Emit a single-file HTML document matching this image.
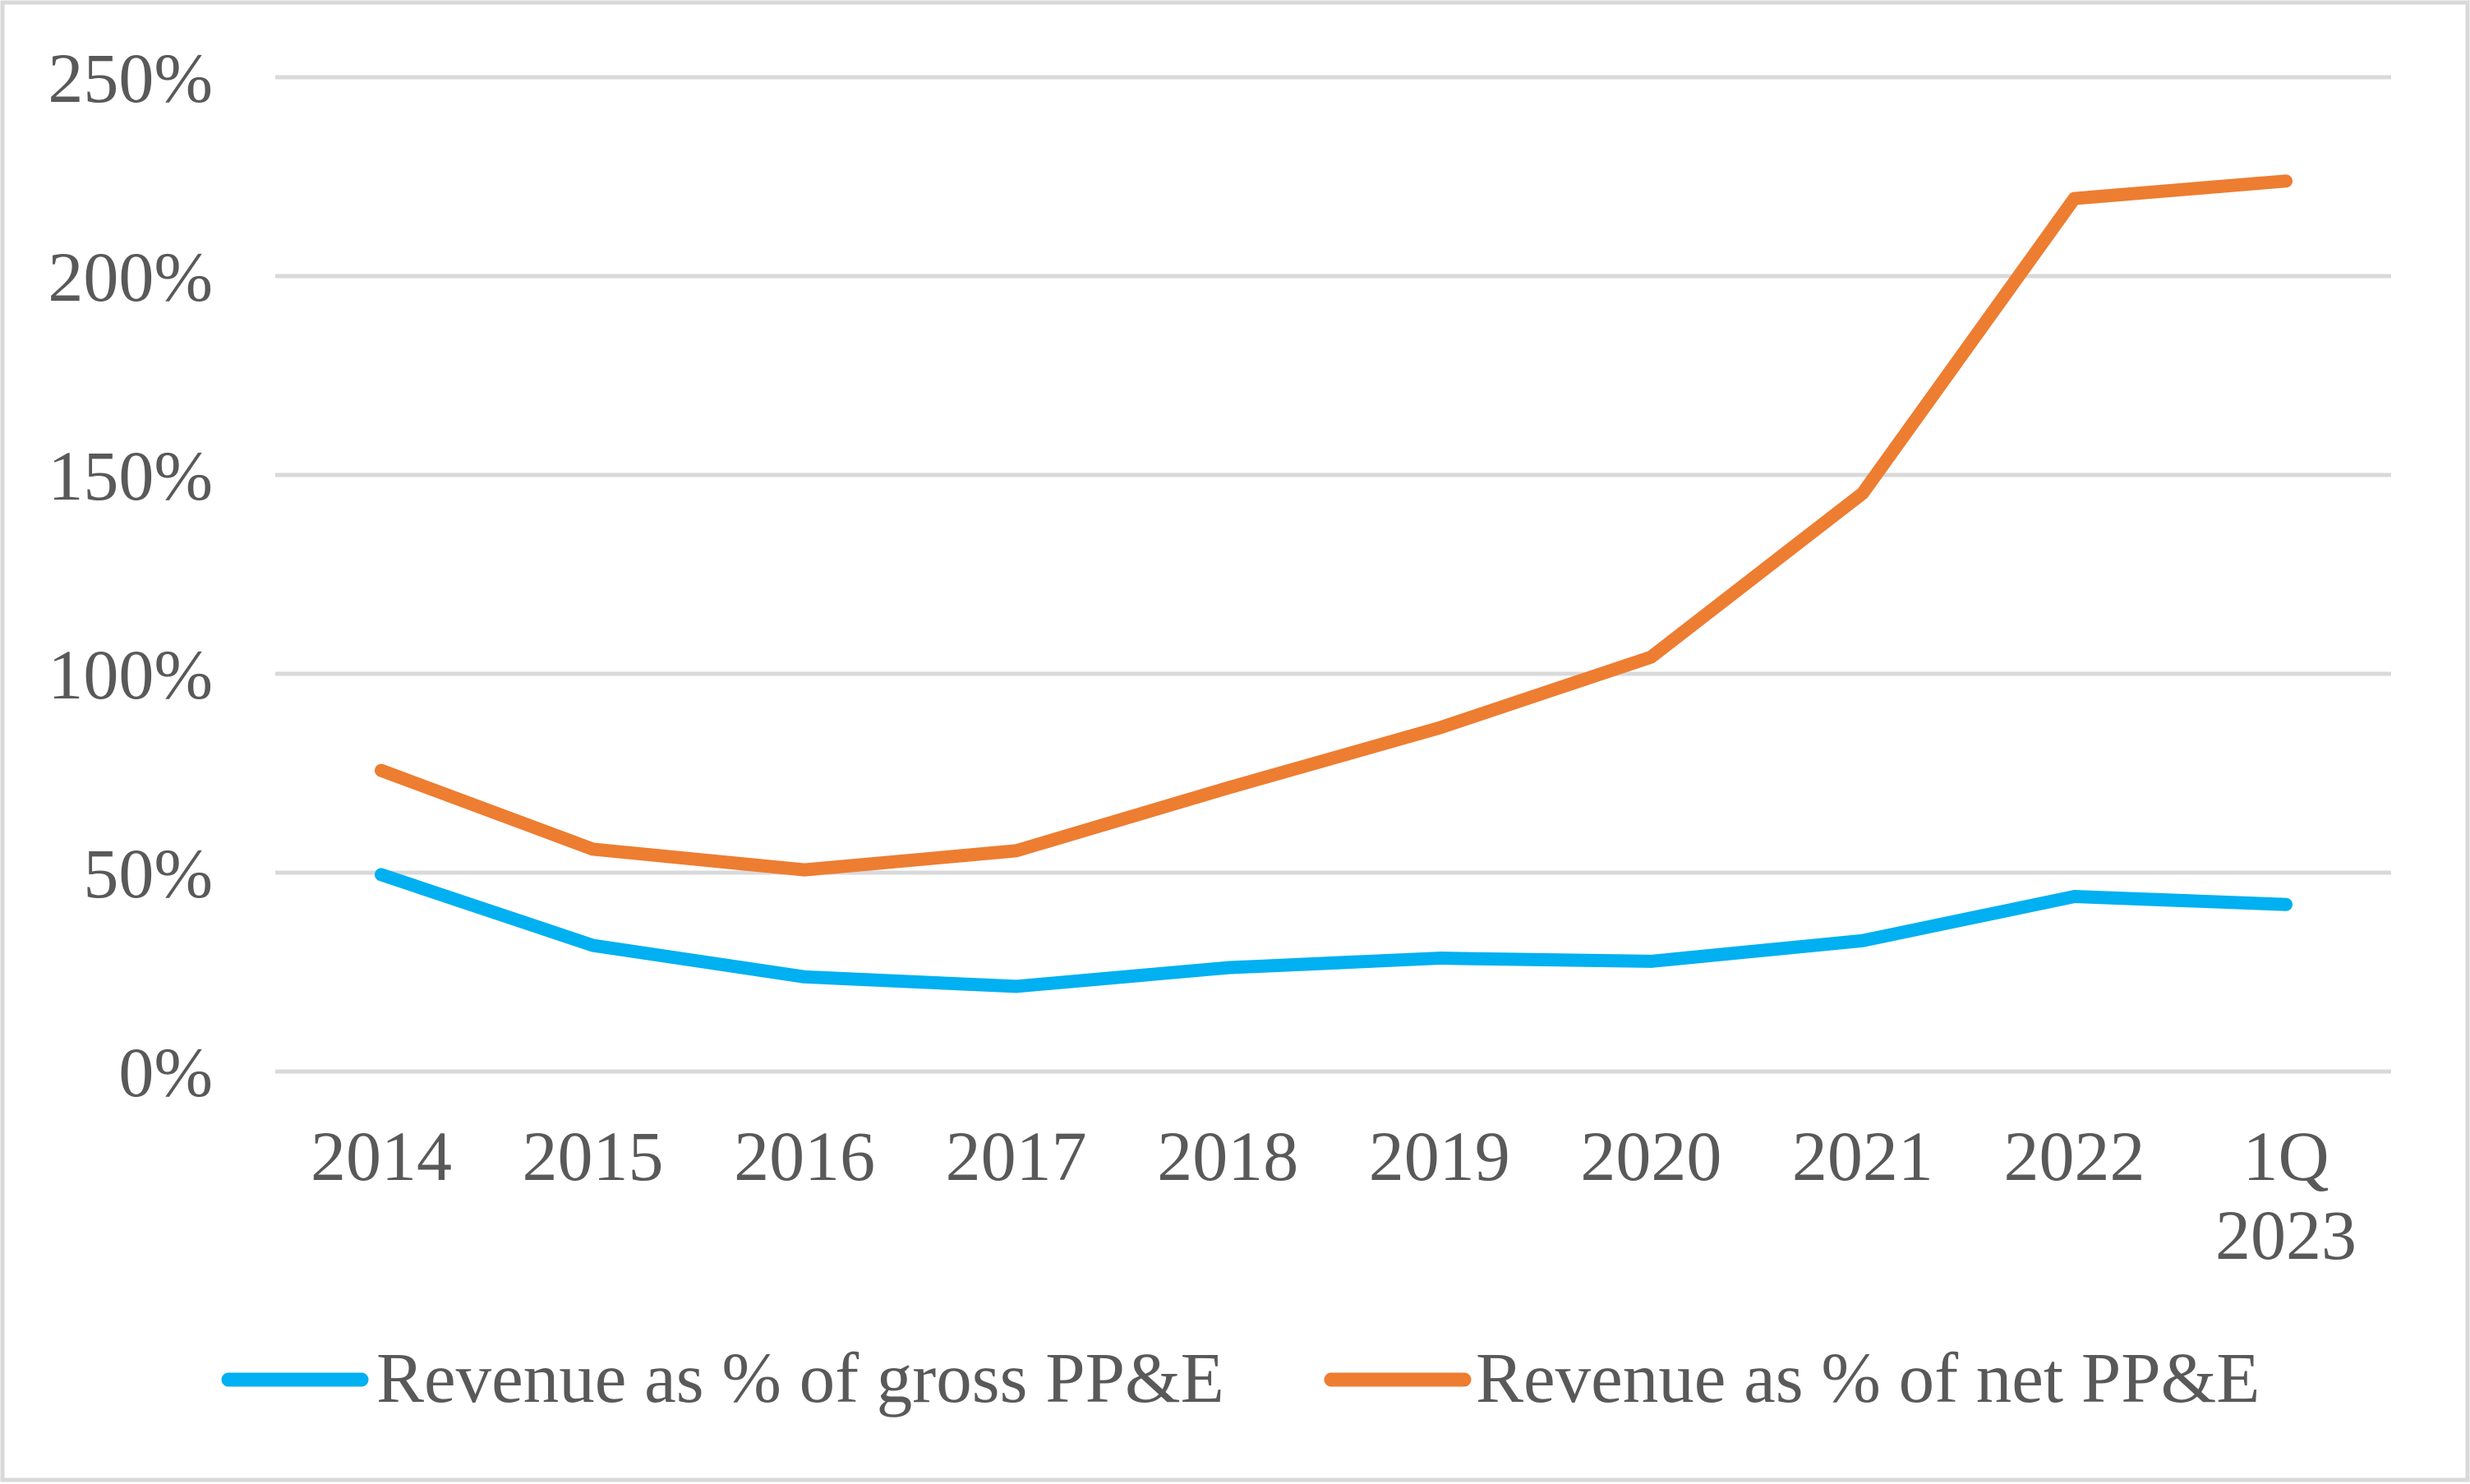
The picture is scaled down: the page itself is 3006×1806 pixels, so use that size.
<!DOCTYPE html>
<html><head><meta charset="utf-8"><style>
html,body{margin:0;padding:0;background:#fff}
svg{display:block}
text{font-family:"Liberation Serif",serif;fill:#595959}
</style></head><body>
<svg id="chart" width="3006" height="1806" viewBox="0 0 3006 1806">
<rect x="3" y="3" width="3000" height="1798" fill="#fff" stroke="#d9d9d9" stroke-width="5"/>
<g id="grid"></g><g id="ylabels"></g><g id="xlabels"></g><g id="series"></g>
<g>
<line x1="278" y1="1679" x2="440" y2="1679" stroke="#00b0f0" stroke-width="17" stroke-linecap="round"/>
<text x="458" y="1706" font-size="87">Revenue as % of gross PP&amp;E</text>
<line x1="1620" y1="1679" x2="1782" y2="1679" stroke="#ed7d31" stroke-width="17" stroke-linecap="round"/>
<text x="1796" y="1706" font-size="87">Revenue as % of net PP&amp;E</text>
</g>
</svg>
<script>
const categories=["2014","2015","2016","2017","2018","2019","2020","2021","2022","1Q|2023"];
const grossValues=[49.5,31.7,23.8,21.4,26.1,28.5,27.7,32.9,44.0,42.0];
const netValues=[75.7,55.9,50.7,55.5,71.3,86.4,104.2,145.4,219.5,223.9];
const yTicks=[0,50,100,150,200,250];
const NS="http://www.w3.org/2000/svg";
const x=i=>464+i*(2782-464)/9;
const y=v=>1304-v*(1304-94)/250;
function mk(tag,attrs,parent){const e=document.createElementNS(NS,tag);for(const k in attrs)e.setAttribute(k,attrs[k]);document.getElementById(parent).appendChild(e);return e;}
yTicks.forEach(t=>{
 const l=mk('line',{x1:335,x2:2910,y1:y(t),y2:y(t),stroke:'#d9d9d9','stroke-width':5},'grid');
 
 
 const tx=mk('text',{x:259,y:y(t)+30,'text-anchor':'end','font-size':86},'ylabels');
 tx.textContent=t+'%';
 
 
});
categories.forEach((c,i)=>{
 c.split('|').forEach((p,j)=>{
  const tx=mk('text',{x:x(i),y:1436+j*96,'text-anchor':'middle','font-size':86},'xlabels');
  tx.textContent=p;
  
  
 });
});
function line(vals,color,name){
 const p=mk('polyline',{points:vals.map((v,i)=>x(i)+','+y(v)).join(' '),fill:'none',stroke:color,'stroke-width':16,'stroke-linecap':'round','stroke-linejoin':'round'},'series');
 
 
}
line(grossValues,'#00b0f0','gross-ppe-line');
line(netValues,'#ed7d31','net-ppe-line');
</script>
</body></html>
